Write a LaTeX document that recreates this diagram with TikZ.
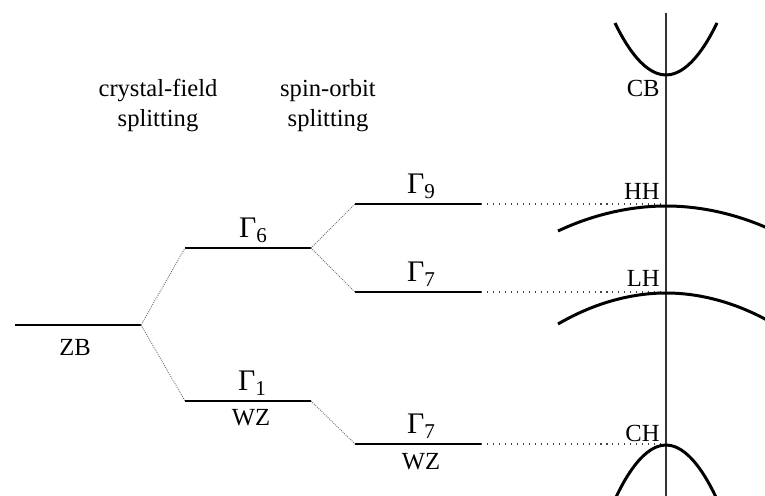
\documentclass[tikz,border=0pt]{standalone}
\usepackage{fontspec}
\setmainfont{Liberation Serif}
\tikzset{level/.style={line width=1.7pt},
         split/.style={black!60,line width=0.5pt,dash pattern=on 0.5pt off 0.7pt},
         guide/.style={black!75,line width=0.6pt,dash pattern=on 0.6pt off 2.8pt},
         band/.style={line width=1.7pt},
         axis/.style={black!80,line width=0.8pt},
         lbl/.style={font=\fontsize{14}{17}\selectfont,inner sep=0pt},
         gam/.style={font=\fontsize{17}{18}\selectfont,inner sep=0pt,anchor=base}}
\newcommand{\gsub}[1]{Γ\raisebox{-2.8pt}{\fontsize{12}{12}\selectfont #1}}

\begin{document}
\begin{tikzpicture}[x=0.02cm,y=-0.02cm]
      \useasboundingbox (0,0) rectangle (765,496);
      % levels
      \coordinate (zbL) at (15,325);  \coordinate (zbR) at (141,325);
      \coordinate (g6L) at (185,248); \coordinate (g6R) at (311,248);
      \coordinate (g1L) at (185,401); \coordinate (g1R) at (311,401);
      \coordinate (g9L) at (355,204); \coordinate (g9R) at (481,204);
      \coordinate (g7L) at (355,292); \coordinate (g7R) at (481,292);
      \coordinate (gcL) at (355,444); \coordinate (gcR) at (481,444);
      % band extrema on the axis
      \coordinate (top) at (666,13);  \coordinate (bot) at (666,496);
      \coordinate (CB) at (666,75);
      \coordinate (HH) at (666,206);
      \coordinate (LH) at (666,293);
      \coordinate (CH) at (666,445);

      \draw[level] (zbL) -- (zbR);
      \draw[level] (g6L) -- (g6R);
      \draw[level] (g1L) -- (g1R);
      \draw[level] (g9L) -- (g9R);
      \draw[level] (g7L) -- (g7R);
      \draw[level] (gcL) -- (gcR);

      \draw[split] (zbR) -- (g6L);
      \draw[split] (zbR) -- (g1L);
      \draw[split] (g6R) -- (g9L);
      \draw[split] (g6R) -- (g7L);
      \draw[split] (g1R) -- (gcL);

      \draw[guide] (g9R) -- (g9R -| HH);
      \draw[guide] (g7R) -- (g7R -| LH);
      \draw[guide] (gcR) -- (gcR -| CH);

      \draw[axis] (top) -- (bot);

      \begin{scope}
        \clip (0,0) rectangle (765,496);
        \draw[band] (615,23) parabola bend (CB) (717,23);
        \draw[band] (558,231) parabola bend (HH) (774,231);
        \draw[band] (558,324) parabola bend (LH) (774,324);
        \draw[band] (612,506) parabola bend (CH) (720,506);
      \end{scope}

      % labels
      \node[lbl,anchor=north] (zb) at (75,339) {ZB};
      \node[gam] (t6) at (253,238) {\gsub{6}};
      \node[gam] (t1) at (252,391) {\gsub{1}};
      \node[lbl,anchor=north] (wz1) at (251,409) {WZ};
      \node[gam] (t9) at (421,194) {\gsub{9}};
      \node[gam] (t7) at (421,282) {\gsub{7}};
      \node[gam] (t7c) at (421,434) {\gsub{7}};
      \node[lbl,anchor=north] (wz2) at (421,453) {WZ};
      \node[lbl,anchor=base east] (cb) at (660,97) {CB};
      \node[lbl,anchor=base east] (hh) at (660,200) {HH};
      \node[lbl,anchor=base east] (lh) at (660,287) {LH};
      \node[lbl,anchor=base east] (ch) at (660,442) {CH};

      \node[lbl,align=center,anchor=north] (cf) at (158,79) {crystal-field\\splitting};
      \node[lbl,align=center,anchor=north] (so) at (328,79) {spin-orbit\\splitting};
    \end{tikzpicture}
\end{document}
